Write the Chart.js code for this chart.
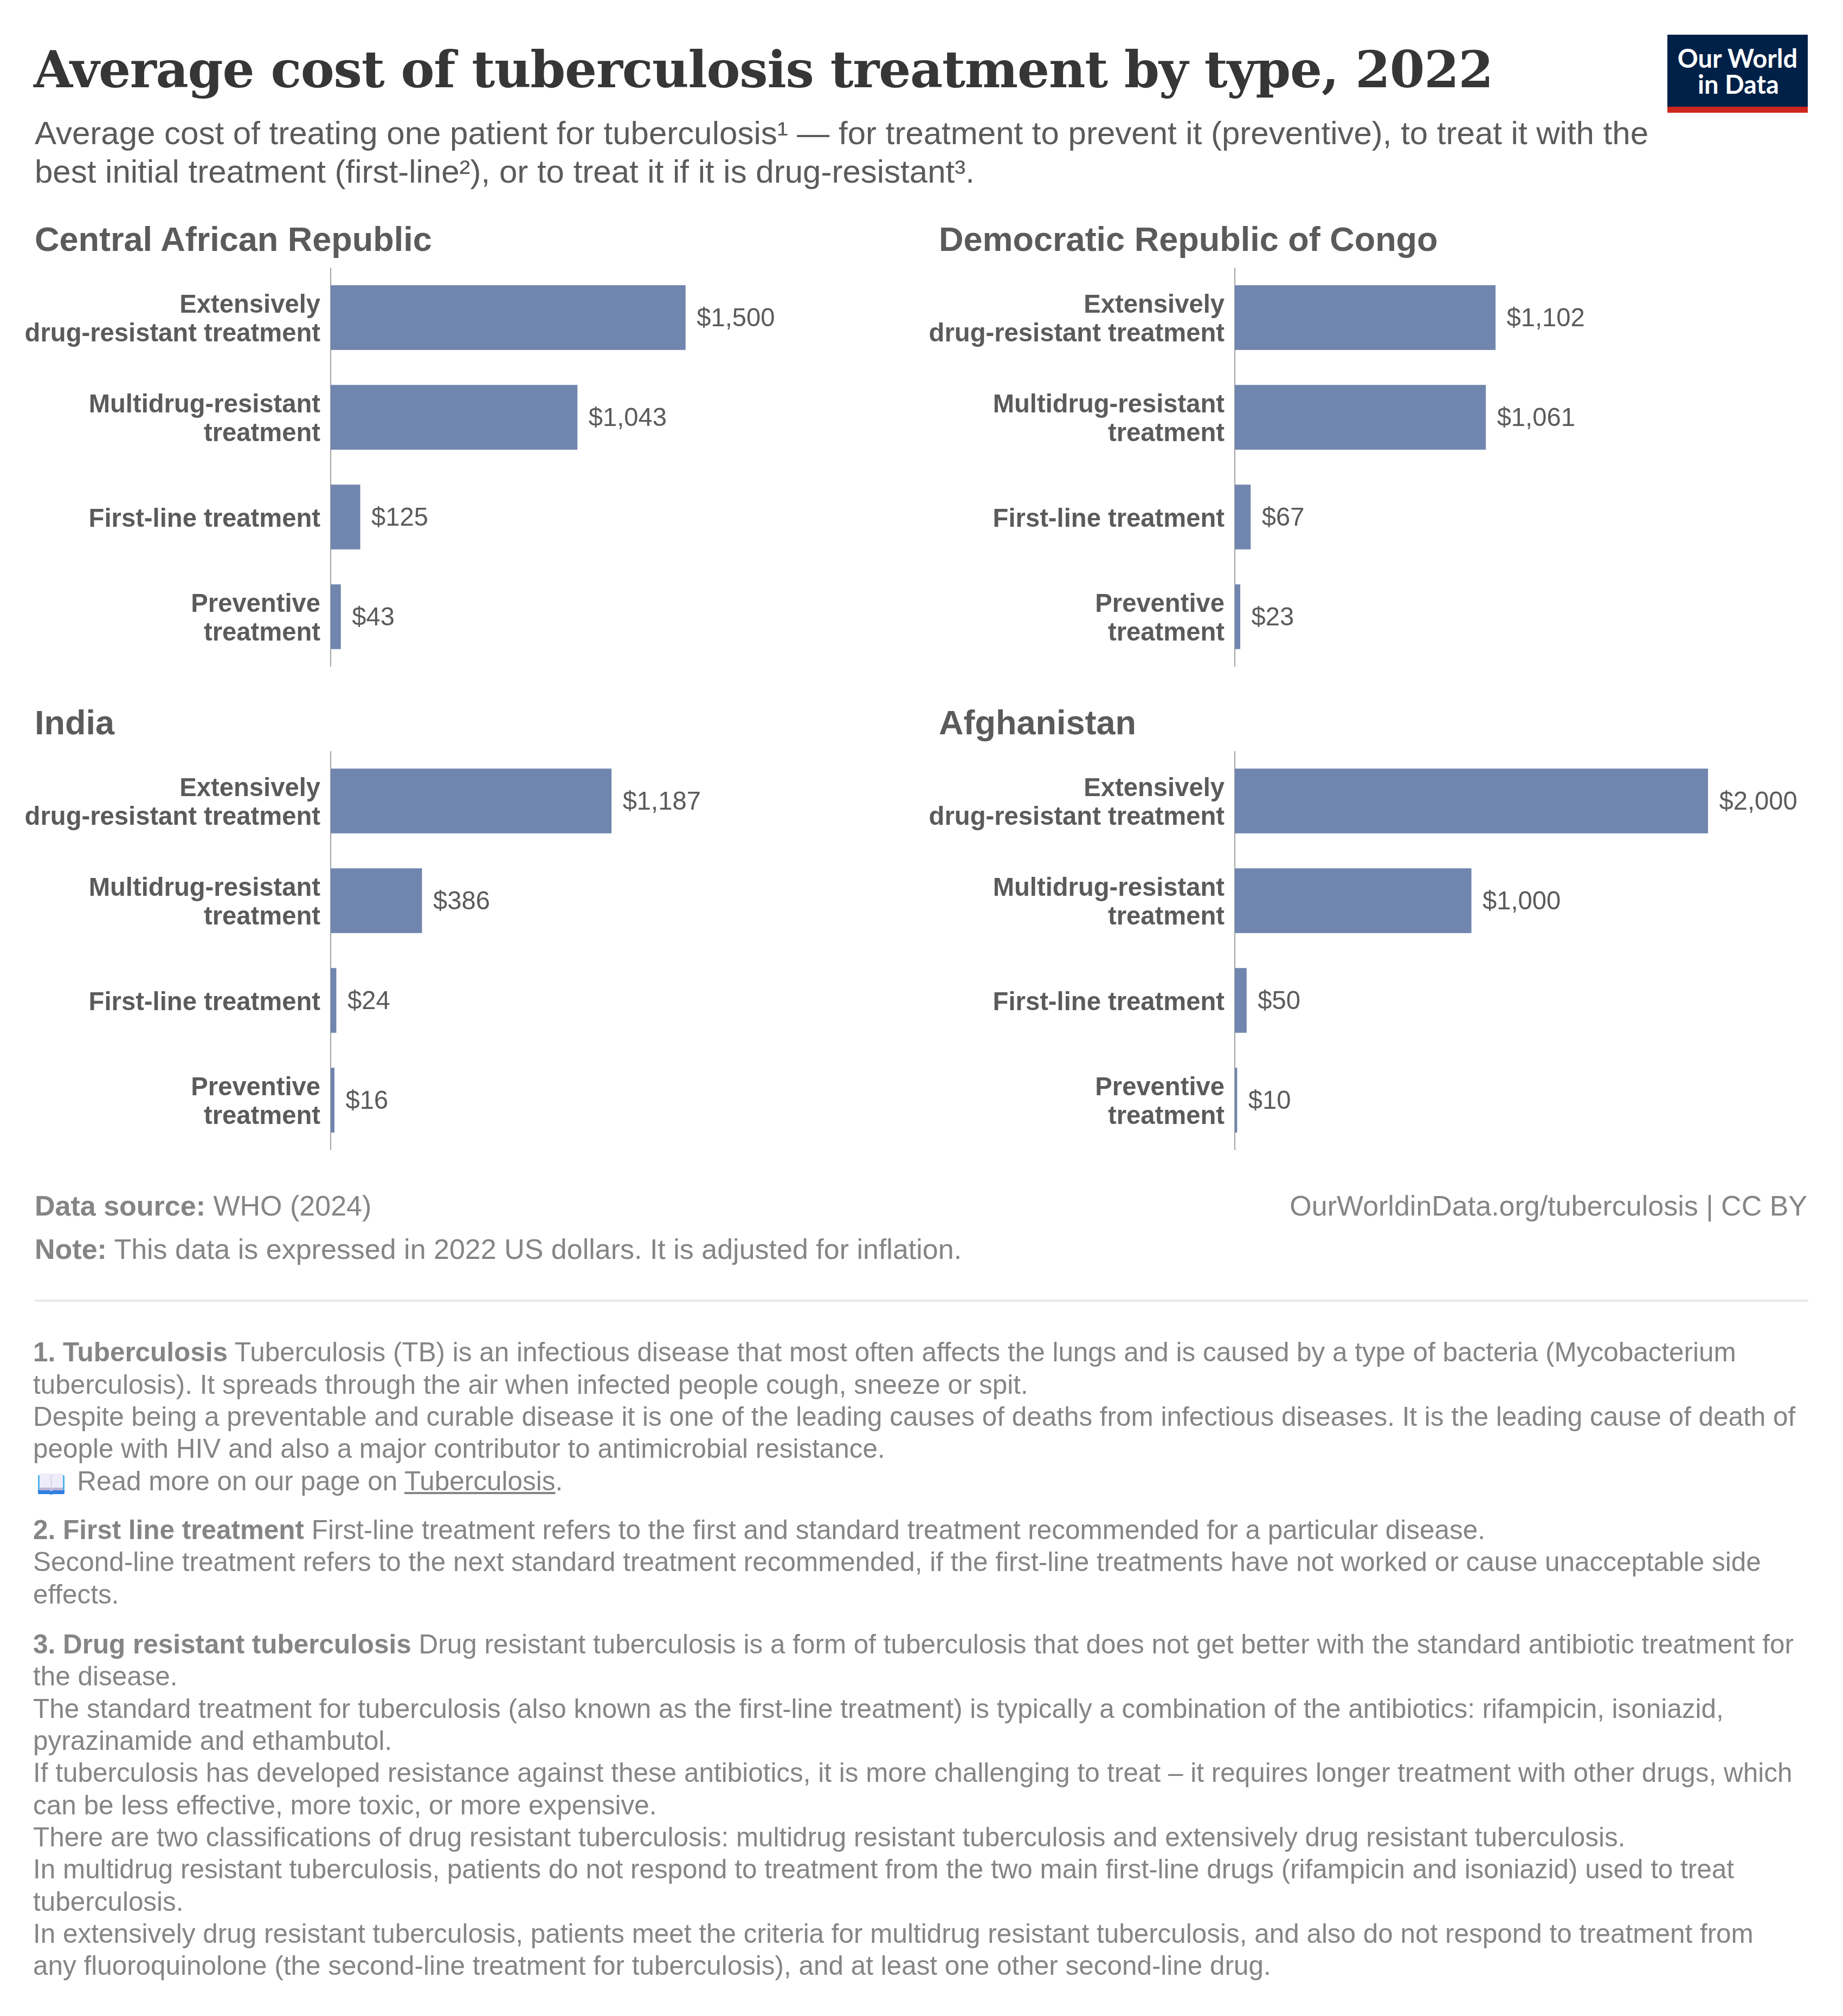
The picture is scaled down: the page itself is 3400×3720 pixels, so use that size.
<!DOCTYPE html>
<html><head><meta charset="utf-8">
<script src="https://cdn.jsdelivr.net/npm/chart.js@4"></script>
<style>
html,body{margin:0;padding:0;background:#fff;width:3400px;height:3720px;overflow:hidden}
body{position:relative;font-family:"Liberation Sans",Arial,sans-serif}
.t{position:absolute;white-space:pre;line-height:1.2}
canvas{position:absolute}
.book{color:transparent;position:relative;display:inline-block;margin-left:9px;width:58.500px;height:59px;vertical-align:baseline}
.book svg{position:absolute;left:0;top:16px;width:49px;height:39px}
</style></head><body>
<script>
const categories=[["Extensively","drug-resistant treatment"],["Multidrug-resistant","treatment"],"First-line treatment",["Preventive","treatment"]];
const carValues=[1500,1043,125,43];
const drcValues=[1102,1061,67,23];
const indiaValues=[1187,386,24,16];
const afghanistanValues=[2000,1000,50,10];
const panelNames=["Central African Republic","Democratic Republic of Congo","India","Afghanistan"];
const titleText="Average cost of tuberculosis treatment by type, 2022";
const subtitleLines=["Average cost of treating one patient for tuberculosis¹ — for treatment to prevent it (preventive), to treat it with the","best initial treatment (first-line²), or to treat it if it is drug-resistant³."];
const bookIcon='<span class="book">📖<svg viewBox="0 0 49 39"><rect x="0" y="3" width="49" height="34" rx="2" fill="#4db4ee"/><path d="M0 31h49v5a2 2 0 0 1-2 2H28l-3.500 1-3.500-1H2a2 2 0 0 1-2-2z" fill="#2f7fe0"/><path d="M3 2a2 2 0 0 1 2-2h17l2.500 2L27 0h17a2 2 0 0 1 2 2v29H27l-2.500 2-2.500-2H3z" fill="#efecf9"/><path d="M3 26h19l2.500 2 2.500-2h19v5H27l-2.500 2-2.500-2H3z" fill="#bdb5d8"/><path d="M24.500 2v26" stroke="#d5d0e8" stroke-width="2"/></svg></span>';
const footnotes=[
[2512,"<b>1. Tuberculosis</b> Tuberculosis (TB) is an infectious disease that most often affects the lungs and is caused by a type of bacteria (Mycobacterium"],
[2572,"tuberculosis). It spreads through the air when infected people cough, sneeze or spit."],
[2631,"Despite being a preventable and curable disease it is one of the leading causes of deaths from infectious diseases. It is the leading cause of death of"],
[2690,"people with HIV and also a major contributor to antimicrobial resistance."],
[2750,bookIcon+" Read more on our page on <u>Tuberculosis</u>."],
[2840,"<b>2. First line treatment</b> First-line treatment refers to the first and standard treatment recommended for a particular disease."],
[2899,"Second-line treatment refers to the next standard treatment recommended, if the first-line treatments have not worked or cause unacceptable side"],
[2959,"effects."],
[3051,"<b>3. Drug resistant tuberculosis</b> Drug resistant tuberculosis is a form of tuberculosis that does not get better with the standard antibiotic treatment for"],
[3110,"the disease."],
[3170,"The standard treatment for tuberculosis (also known as the first-line treatment) is typically a combination of the antibiotics: rifampicin, isoniazid,"],
[3229,"pyrazinamide and ethambutol."],
[3288,"If tuberculosis has developed resistance against these antibiotics, it is more challenging to treat – it requires longer treatment with other drugs, which"],
[3348,"can be less effective, more toxic, or more expensive."],
[3407,"There are two classifications of drug resistant tuberculosis: multidrug resistant tuberculosis and extensively drug resistant tuberculosis."],
[3466,"In multidrug resistant tuberculosis, patients do not respond to treatment from the two main first-line drugs (rifampicin and isoniazid) used to treat"],
[3526,"tuberculosis."],
[3585,"In extensively drug resistant tuberculosis, patients meet the criteria for multidrug resistant tuberculosis, and also do not respond to treatment from"],
[3644,"any fluoroquinolone (the second-line treatment for tuberculosis), and at least one other second-line drug."]
];
function text(html,x,base,size,color,opt={}){
  const d=document.createElement('div');d.className='t';d.innerHTML=html;
  d.style.cssText+=`font-size:${size}px;color:${color};top:${base-0.9465*size}px;`+(opt.right!==undefined?`right:${3400-opt.right}px;`:`left:${x}px;`)+(opt.css||'');
  document.body.appendChild(d);return d;
}
text(titleText,62,161,93,"#363636",{css:'font-family:"DejaVu Serif",serif;font-weight:700;line-height:1.2;letter-spacing:-1.25px;'});
subtitleLines.forEach((s,i)=>text(s,64,267+i*71,60,"#5b5b5b"));
// logo
const logo=document.createElement('div');
logo.style.cssText='position:absolute;left:3076px;top:64px;width:259px;height:133px;background:#002147;border-bottom:11px solid #ce261e';
document.body.appendChild(logo);
const lato='font-family:Lato,sans-serif;font-weight:700;';
text("Our World",3205.5,123,47,"#fff",{css:lato+'transform:translateX(-50%);'});
text("in Data",3207,171,47,"#fff",{css:lato+'transform:translateX(-50%);'});
// panels
const series=[carValues,drcValues,indiaValues,afghanistanValues];
const lefts=[0,1668,0,1668],tops=[494,494,1386,1386];
const valueLabels={id:'valueLabels',
  beforeDraw(c){ if(c.$shifted)return; c.$shifted=true;
    c.scales.y.getLabelItems(c.chartArea).forEach(it=>{it.options.translation[1]+=4.5;}); },
  afterDatasetsDraw(c){
  const ctx=c.ctx;ctx.save();ctx.font='47.2px "Liberation Sans"';ctx.fillStyle='#5b5b5b';ctx.textAlign='left';ctx.textBaseline='middle';
  c.getDatasetMeta(0).data.forEach((b,i)=>{ctx.fillText('$'+c.data.datasets[0].data[i].toLocaleString('en-US'),b.x+20.5,b.y+3);});
  ctx.restore();}};
series.forEach((vals,i)=>{
  text(panelNames[i],lefts[i]+64,tops[i]-30,63,"#5b5b5b",{css:'font-weight:700;'});
  const cv=document.createElement('canvas');cv.width=1668;cv.height=736;
  cv.style.cssText=`left:${lefts[i]}px;top:${tops[i]}px;width:1668px;height:736px`;
  document.body.appendChild(cv);
  new Chart(cv,{type:'bar',plugins:[valueLabels],
    data:{labels:categories,datasets:[{data:vals,backgroundColor:'#7086ae',barPercentage:0.65,categoryPercentage:1,borderWidth:0}]},
    options:{indexAxis:'y',responsive:false,animation:false,devicePixelRatio:1,
      layout:{padding:{left:0,top:0,bottom:0,right:1668-610-873}},
      plugins:{legend:{display:false},tooltip:{enabled:false},title:{display:false}},
      scales:{
        x:{display:false,min:0,max:2000},
        y:{afterFit(s){s.width=610;s.paddingTop=0;s.paddingBottom=0;},grid:{display:false,drawTicks:false},border:{display:true,color:'#a3a3a3',width:2},
           ticks:{autoSkip:false,maxRotation:0,minRotation:0,padding:19,color:'#5b5b5b',font:{family:'"Liberation Sans"',size:47.2,weight:'700',lineHeight:1.11}}}
      }}});
});
// footer
text("<b>Data source:</b> WHO (2024)",64,2243,52,"#858585");
text("OurWorldinData.org/tuberculosis | CC BY",0,2243,52,"#858585",{right:3334});
text("<b>Note:</b> This data is expressed in 2022 US dollars. It is adjusted for inflation.",64,2323,52,"#858585");
const hr=document.createElement('div');hr.style.cssText='position:absolute;left:64px;top:2398px;width:3272px;height:4px;background:#e7e7e7';document.body.appendChild(hr);
footnotes.forEach(([b,s])=>text(s,61,b,49.45,"#858585"));
</script>
</body></html>
